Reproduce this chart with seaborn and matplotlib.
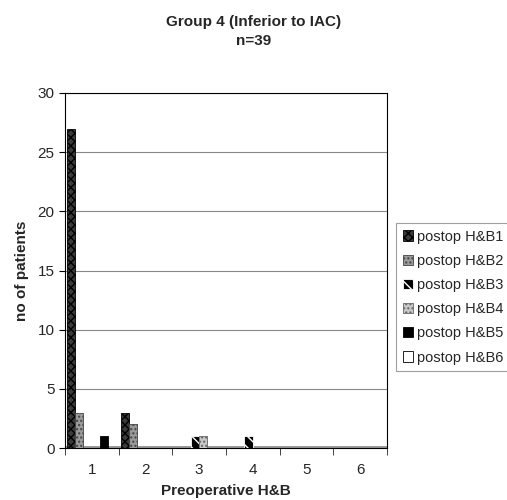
import matplotlib
matplotlib.use("Agg")
import matplotlib.pyplot as plt
import seaborn as sns
import pandas as pd
from matplotlib.patches import Patch

preop = ["1", "2", "3", "4", "5", "6"]
series = ["postop H&B1", "postop H&B2", "postop H&B3", "postop H&B4", "postop H&B5", "postop H&B6"]
hb1 = [27, 3, 0, 0, 0, 0]
hb2 = [3, 2, 0, 0, 0, 0]
hb3 = [0, 0, 1, 1, 0, 0]
hb4 = [0, 0, 1, 0, 0, 0]
hb5 = [1, 0, 0, 0, 0, 0]
hb6 = [0, 0, 0, 0, 0, 0]

rows = []
for name, vals in zip(series, [hb1, hb2, hb3, hb4, hb5, hb6]):
    for p, v in zip(preop, vals):
        rows.append({"Preoperative H&B": p, "no of patients": v, "series": name})
df = pd.DataFrame(rows)

sns.set_style("white")
plt.rcParams["font.family"] = ["Liberation Sans", "DejaVu Sans"]

styles = [
    dict(facecolor="#3a3a3a", edgecolor="black", hatch="xxxx"),
    dict(facecolor="#9a9a9a", edgecolor="#444444", hatch="...."),
    dict(facecolor="black", edgecolor="white", hatch="\\\\\\"),
    dict(facecolor="#c8c8c8", edgecolor="#666666", hatch="...."),
    dict(facecolor="black", edgecolor="black", hatch=None),
    dict(facecolor="white", edgecolor="black", hatch=None),
]

fig = plt.figure(figsize=(5.07, 5.0), dpi=100)
ax = fig.add_axes([0.128, 0.104, 0.635, 0.71])

sns.barplot(data=df, x="Preoperative H&B", y="no of patients", hue="series",
            order=preop, hue_order=series, ax=ax, width=0.92, legend=False,
            palette=["black"] * 6, saturation=1)

for cont, st in zip(ax.containers, styles):
    for bar in cont:
        bar.set_facecolor(st["facecolor"])
        bar.set_edgecolor(st["edgecolor"])
        bar.set_linewidth(0.6)
        bar.set_zorder(3)
        if st["hatch"]:
            bar.set_hatch(st["hatch"])

ax.axhspan(0, 0.2, color="#9a9a9a", zorder=2, linewidth=0)

ax.set_ylim(0, 30)
ax.set_xlim(-0.5, 5.5)
ax.set_yticks(range(0, 31, 5))
ax.yaxis.grid(True, color="#888888", linewidth=0.8)
ax.set_axisbelow(True)
for s in ax.spines.values():
    s.set_color("black")
    s.set_linewidth(0.8)
ax.tick_params(axis="both", labelsize=11, length=4, direction="out",
               left=True, bottom=False, color="black")
ax.set_xticks([i + 0.5 for i in range(-1, 6)], minor=True)
ax.tick_params(axis="x", which="minor", length=5, bottom=True)
ax.tick_params(axis="x", which="major", pad=7)
ax.set_xlabel("Preoperative H&B", fontsize=11, fontweight="bold", labelpad=5)
ax.set_ylabel("no of patients", fontsize=11, fontweight="bold", labelpad=6)

fig.text(0.5, 0.937, "Group 4 (Inferior to IAC)\nn=39", ha="center", va="center",
         fontsize=11, fontweight="bold", linespacing=1.45)

handles = [Patch(facecolor=st["facecolor"], edgecolor=st["edgecolor"] if st["hatch"] else "black",
                 hatch=st["hatch"], linewidth=0.6) for st in styles]
leg = fig.legend(handles=handles, labels=series, loc="upper left",
                 bbox_to_anchor=(0.781, 0.554), frameon=True, fontsize=10.5,
                 handlelength=0.7, handleheight=0.7, handletextpad=0.3,
                 labelspacing=0.7, borderpad=0.45, borderaxespad=0, fancybox=False)
leg.get_frame().set_edgecolor("#888888")
leg.get_frame().set_linewidth(0.8)

fig.savefig("out.png", dpi=100, facecolor="white")
